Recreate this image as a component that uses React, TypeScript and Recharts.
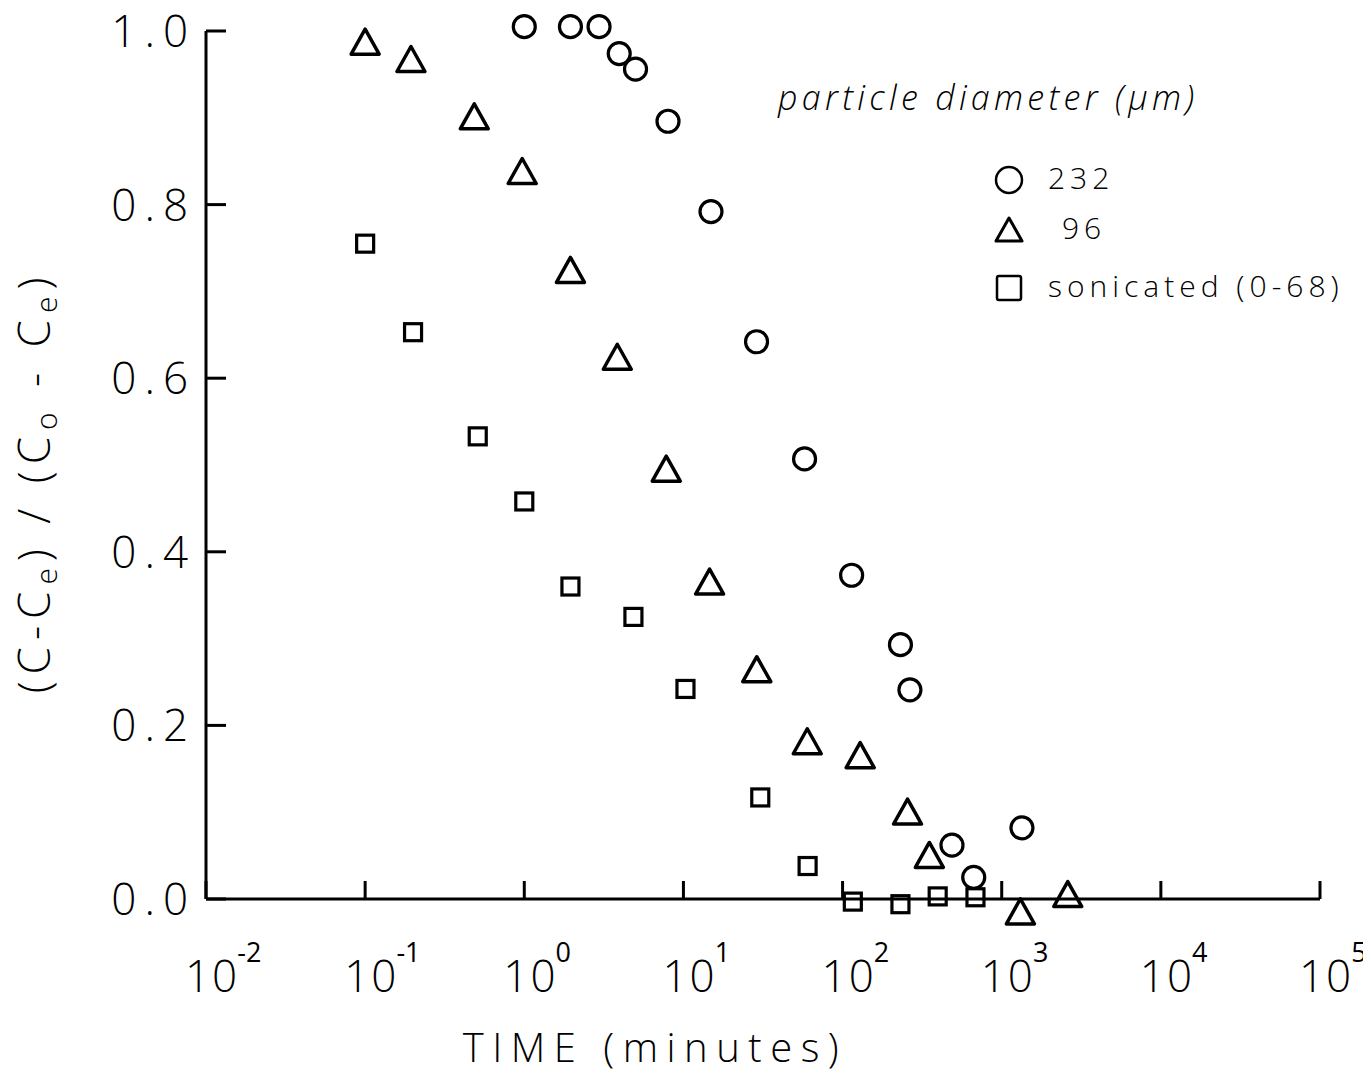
import { ScatterChart, Scatter, XAxis, YAxis, Legend } from 'recharts';

const FONT = '"Open Sans", "Liberation Sans", sans-serif';

const X_TICKS = [0.01, 0.1, 1, 10, 100, 1000, 10000, 100000];
const Y_TICKS = [0, 0.2, 0.4, 0.6, 0.8, 1.0];

// 232 um particles
const T_232 = [1.0, 1.95, 2.95, 3.95, 5.0, 8.0, 14.9, 28.8, 57.7, 114, 231, 265, 487, 667, 1340];
const V_232 = [1.005, 1.005, 1.005, 0.974, 0.956, 0.896, 0.792, 0.642, 0.507, 0.373, 0.293, 0.241, 0.062, 0.025, 0.082];

// 96 um particles
const T_96 = [0.1, 0.194, 0.485, 0.97, 1.95, 3.84, 7.8, 14.6, 28.9, 60, 129, 256, 351, 1310, 2600];
const V_96 = [0.986, 0.966, 0.9, 0.837, 0.723, 0.623, 0.494, 0.364, 0.263, 0.18, 0.164, 0.099, 0.049, -0.016, 0.004];

// sonicated (0-68 um)
const T_SON = [0.1, 0.2, 0.51, 1.0, 1.95, 4.85, 10.3, 30.4, 60.3, 116, 231, 396, 684];
const V_SON = [0.755, 0.653, 0.533, 0.458, 0.36, 0.325, 0.242, 0.117, 0.038, -0.003, -0.006, 0.003, 0.002];

const zip = (t: number[], v: number[]) => t.map((x, i) => ({ t: x, v: v[i] }));

const d232 = zip(T_232, V_232);
const d96 = zip(T_96, V_96);
const dSon = zip(T_SON, V_SON);

const CircleMark = (p: any) => (
    <circle cx={p.cx} cy={p.cy} r={11} fill="none" stroke="#000" strokeWidth={3.2} />
);
const TriangleMark = (p: any) => (
    <polygon
        points={`${p.cx},${p.cy - 14} ${p.cx + 14},${p.cy + 11} ${p.cx - 14},${p.cy + 11}`}
        fill="none" stroke="#000" strokeWidth={3.5} strokeLinejoin="round"
    />
);
const SquareMark = (p: any) => (
    <rect x={p.cx - 8.5} y={p.cy - 8.5} width={17} height={17} fill="none" stroke="#000" strokeWidth={3.2} />
);

const SYMBOLS: any = {
    '232': <circle cx={15} cy={15} r={13} fill="none" stroke="#000" strokeWidth={2.5} />,
    '96': <polygon points="15,3 28,26 2,26" fill="none" stroke="#000" strokeWidth={3} strokeLinejoin="round" />,
    'sonicated (0-68)': <rect x={3} y={3} width={24} height={24} rx={2} fill="none" stroke="#000" strokeWidth={2.5} />,
};

const XTick = ({ x, y, payload }: any) => {
    const exp = Math.round(Math.log10(payload.value));
    return (
        <text x={x - 21} y={y + 93} fontSize={44} letterSpacing={2} fill="#000" fontFamily={FONT} fontWeight={300}>
            10
            <tspan dx={-2} dy={-30} fontSize={27} letterSpacing={0} fontWeight={500}>{exp < 0 ? `-${-exp}` : exp}</tspan>
        </text>
    );
};

const YTick = ({ x, y, payload }: any) => (
    <text x={x - 10} y={y + 16} textAnchor="end" fontSize={44} letterSpacing={8} fill="#000" fontFamily={FONT} fontWeight={300}>
        {Number(payload.value).toFixed(1)}
    </text>
);

const YTitle = () => (
    <text
        x={42} y={474} textAnchor="middle" fontSize={44} letterSpacing={7} fill="#000" fontFamily={FONT} fontWeight={300}
        transform="rotate(-90, 42, 474)"
    >
        (C-C<tspan fontSize={30} dy={7}>e</tspan><tspan dy={-7}>) / (C</tspan>
        <tspan fontSize={30} dy={7}>o</tspan><tspan dy={-7}> - C</tspan>
        <tspan fontSize={30} dy={7}>e</tspan><tspan dy={-7}>)</tspan>
    </text>
);

const XTitle = () => (
    <text x={647} y={1054} textAnchor="middle" fontSize={40} letterSpacing={8.5} fill="#000" fontFamily={FONT} fontWeight={300}>
        TIME (minutes)
    </text>
);

const LegendBox = ({ payload }: any) => (
    <div style={{ position: 'relative', width: 590, height: 250, fontFamily: FONT, color: '#000', fontWeight: 300 }}>
        <div style={{ position: 'absolute', left: 0, top: 6, fontSize: 34, fontStyle: 'italic', letterSpacing: 4.3, whiteSpace: 'nowrap' }}>
            particle diameter (μm)
        </div>
        {(payload || []).map((e: any, i: number) => {
            const cy = [112, 162, 220][i];
            return (
                <div key={e.value}>
                    <svg width={30} height={30} style={{ position: 'absolute', left: 216, top: cy - 15 }}>
                        {SYMBOLS[e.value]}
                    </svg>
                    <div style={{ position: 'absolute', left: e.value === '96' ? 284 : 270, top: cy - 22, fontSize: 30, letterSpacing: 5, whiteSpace: 'nowrap', lineHeight: '40px' }}>
                        {e.value}
                    </div>
                </div>
            );
        })}
    </div>
);

export default function App() {
    return (
        <div style={{ width: 1355, height: 1068 }}>
            <style>{'body{overflow:hidden} .recharts-scatter{clip-path:none}'}</style>
            <ScatterChart width={1355} height={1068} margin={{ top: 23, right: 43, bottom: 17, left: 8 }}>
                <XAxis
                    dataKey="t" type="number" scale="log" domain={[0.01, 100000]} ticks={X_TICKS} interval={0}
                    height={160} tickSize={-18} tickMargin={18} tick={<XTick />}
                    axisLine={{ stroke: '#000', strokeWidth: 3 }} tickLine={{ stroke: '#000', strokeWidth: 3 }}
                    label={<XTitle />}
                />
                <YAxis
                    dataKey="v" type="number" domain={[0, 1]} ticks={Y_TICKS} allowDataOverflow interval={0}
                    width={190} tickSize={-20} tickMargin={20} tick={<YTick />}
                    axisLine={{ stroke: '#000', strokeWidth: 3 }} tickLine={{ stroke: '#000', strokeWidth: 3 }}
                    label={<YTitle />}
                />
                <Legend
                    layout="vertical" align="center" verticalAlign="middle"
                    wrapperStyle={{ top: 60, left: 770, width: 590 }}
                    content={<LegendBox />}
                />
                <Scatter name="232" data={d232} shape={CircleMark} isAnimationActive={false} />
                <Scatter name="96" data={d96} shape={TriangleMark} isAnimationActive={false} />
                <Scatter name="sonicated (0-68)" data={dSon} shape={SquareMark} isAnimationActive={false} />
            </ScatterChart>
        </div>
    );
}
